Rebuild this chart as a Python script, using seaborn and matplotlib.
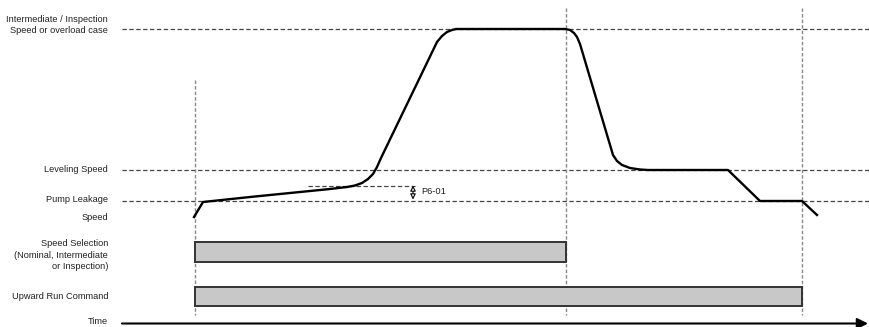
import numpy as np
import pandas as pd
import seaborn as sns
import matplotlib.pyplot as plt

# speed profile (x = time position, y = level in pixels, down is lower speed)
t_speed = [194, 203, 250, 300, 330, 347, 355, 362, 368, 373, 377, 381, 437, 442, 447, 452, 456, 462,
           540, 565, 570, 574, 577, 580, 613, 617, 622, 630, 640, 648, 728, 760, 802, 817]
v_speed = [217, 202, 197, 192, 189, 187, 185.5, 183, 179, 174, 167, 158, 42, 36, 32, 30, 29, 29,
           29, 29, 30, 33, 37, 44, 155, 161, 165, 168, 169.5, 170, 170, 201, 201, 215]

# reference levels
level_names = ["Intermediate / Inspection\nSpeed or overload case", "Leveling Speed", "Pump Leakage"]
level_y = [29, 170, 201]

# events (vertical dashed lines) and signal bars
event_t = [195, 566, 802]
event_top = [80, 8, 8]
bar_names = ["Speed Selection\n(Nominal, Intermediate\nor Inspection)", "Upward Run Command"]
bar_start = [195, 195]
bar_end = [566, 802]
bar_top = [242, 287]
bar_bottom = [262, 306]

plt.rcParams['font.family'] = ['Liberation Sans', 'DejaVu Sans']
fig = plt.figure(figsize=(8.69, 3.27), dpi=100)
ax = fig.add_axes([0, 0, 1, 1])

fs = 6.7
lx = 108

# horizontal reference lines
for y in level_y:
    ax.plot([122, 869], [y, y], ls=(0, (3.5, 2)), color='#444444', lw=0.9, zorder=1)
ax.text(lx, 25, level_names[0], ha='right', va='center', fontsize=fs, color='#222222', linespacing=1.4)
ax.text(lx, 170, level_names[1], ha='right', va='center', fontsize=fs, color='#222222')
ax.text(lx, 199, level_names[2], ha='right', va='center', fontsize=fs, color='#222222')
ax.text(lx, 217, "Speed", ha='right', va='center', fontsize=fs, color='#222222')

# vertical event lines
for x, top in zip(event_t, event_top):
    ax.plot([x, x], [top, 315], ls=(0, (2.5, 1.5)), color='#888888', lw=1.0, zorder=1)

# speed curve
df = pd.DataFrame({'t': t_speed, 'v': v_speed})
sns.lineplot(data=df, x='t', y='v', sort=False, estimator=None, color='black', lw=1.7, ax=ax, zorder=3)

# P6-01 offset marker
ax.plot([308, 415], [185.5, 185.5], ls=(0, (3.5, 2)), color='#444444', lw=0.9, zorder=1)
ax.annotate('', xy=(413, 185.5), xytext=(413, 199.5),
            arrowprops=dict(arrowstyle='<|-|>', fc='white', ec='black', lw=0.8, mutation_scale=8,
                            shrinkA=0, shrinkB=0))
ax.text(421, 192, "P6-01", ha='left', va='center', fontsize=fs, color='#222222')

# signal bars
for name, x0, x1, y0, y1 in zip(bar_names, bar_start, bar_end, bar_top, bar_bottom):
    ax.add_patch(plt.Rectangle((x0, y0), x1 - x0, y1 - y0, facecolor='#c8c8c8',
                               edgecolor='#333333', lw=1.4, zorder=2))
    ax.text(lx, (y0 + y1) / 2 if '\n' not in name else 255, name, ha='right', va='center',
            fontsize=fs, color='#222222', multialignment='right', linespacing=1.4)

# time axis
ax.annotate('', xy=(868, 323.5), xytext=(122, 323.5),
            arrowprops=dict(arrowstyle='-|>', color='black', lw=1.5, mutation_scale=16,
                            shrinkA=0, shrinkB=0))
ax.text(lx, 322, "Time", ha='right', va='center', fontsize=fs, color='#222222')

ax.set_xlim(0, 869)
ax.set_ylim(327, 0)
ax.axis('off')

plt.savefig('out.png', dpi=100)
plt.close()
